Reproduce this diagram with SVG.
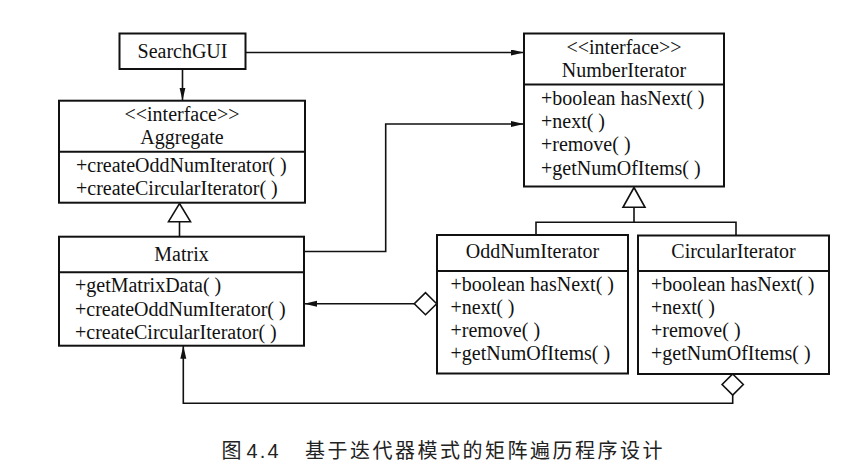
<svg xmlns="http://www.w3.org/2000/svg" width="864" height="475" viewBox="0 0 864 475">
<style>
.box{fill:#fff;stroke:#111;stroke-width:2}
.div{stroke:#111;stroke-width:2}
.t{font-family:"Liberation Serif","Times New Roman",serif;font-size:20px;fill:#111}
.c{text-anchor:middle}
.ln{fill:none;stroke:#111;stroke-width:1.6}
.hol{fill:#fff;stroke:#111;stroke-width:1.6}
.cap{font-family:"Noto Sans CJK SC",sans-serif;font-size:20px;fill:#222}
</style>
<defs>
<marker id="arr" markerUnits="userSpaceOnUse" markerWidth="14" markerHeight="8" refX="13" refY="3" orient="auto">
<path d="M0,0 L13,3 L0,6 Z" fill="#111"/>
</marker>
</defs>
<rect width="864" height="475" fill="#fff"/>

<g id="connectors">
<line class="ln" x1="246" y1="52.5" x2="524" y2="52.5" marker-end="url(#arr)"/>
<line class="ln" x1="182.5" y1="69" x2="182.5" y2="100.5" marker-end="url(#arr)"/>
<polyline class="ln" points="304,251.5 385.7,251.5 385.7,124 524,124" marker-end="url(#arr)"/>
<line class="ln" x1="179.5" y1="236.7" x2="179.5" y2="221.7"/>
<polygon class="hol" points="179.5,203.5 190.5,221.7 168.5,221.7"/>
<polyline class="ln" points="536,235 536,222.3 736,222.3 736,235.5"/>
<line class="ln" x1="634" y1="222.3" x2="634" y2="207.3"/>
<polygon class="hol" points="634,187.5 645,207.3 623,207.3"/>
<line class="ln" x1="414.3" y1="303.7" x2="304" y2="303.7" marker-end="url(#arr)"/>
<polygon class="hol" points="436.7,303.7 425.5,292.7 414.3,303.7 425.5,314.7"/>
<polyline class="ln" points="732.7,395 732.7,403.3 183.3,403.3 183.3,345.7" marker-end="url(#arr)"/>
<polygon class="hol" points="732.7,374 743.3,384.5 732.7,395 722.1,384.5"/>
</g>

<g id="SearchGUI">
<rect class="box" x="119.5" y="33.5" width="126" height="35.5"/>
<text class="t c" x="182.5" y="58">SearchGUI</text>
</g>

<g id="NumberIterator">
<rect class="box" x="524" y="33.5" width="200" height="153"/>
<line class="div" x1="524" y1="84.5" x2="724" y2="84.5"/>
<text class="t c" x="624" y="54">&lt;&lt;interface&gt;&gt;</text>
<text class="t c" x="624" y="77">NumberIterator</text>
<text class="t" x="541" y="105">+boolean hasNext( )</text>
<text class="t" x="541" y="128.3">+next( )</text>
<text class="t" x="541" y="151.3">+remove( )</text>
<text class="t" x="541" y="174.5">+getNumOfItems( )</text>
</g>

<g id="Aggregate">
<rect class="box" x="59" y="100.7" width="246" height="102"/>
<line class="div" x1="59" y1="151.7" x2="305" y2="151.7"/>
<text class="t c" x="182" y="121">&lt;&lt;interface&gt;&gt;</text>
<text class="t c" x="182" y="143.5">Aggregate</text>
<text class="t" x="76" y="171.7">+createOddNumIterator( )</text>
<text class="t" x="76" y="195">+createCircularIterator( )</text>
</g>

<g id="Matrix">
<rect class="box" x="59" y="236.7" width="245" height="109"/>
<line class="div" x1="59" y1="272.3" x2="304" y2="272.3"/>
<text class="t c" x="181.5" y="260.7">Matrix</text>
<text class="t" x="75" y="291.7">+getMatrixData( )</text>
<text class="t" x="75" y="316">+createOddNumIterator( )</text>
<text class="t" x="75" y="339.3">+createCircularIterator( )</text>
</g>

<g id="OddNumIterator">
<rect class="box" x="437" y="235" width="191" height="138.5"/>
<line class="div" x1="437" y1="271" x2="628" y2="271"/>
<text class="t c" x="532.5" y="258">OddNumIterator</text>
<text class="t" x="450.5" y="291">+boolean hasNext( )</text>
<text class="t" x="450.5" y="314">+next( )</text>
<text class="t" x="450.5" y="337">+remove( )</text>
<text class="t" x="450.5" y="360">+getNumOfItems( )</text>
</g>

<g id="CircularIterator">
<rect class="box" x="638" y="235.5" width="191" height="138.5"/>
<line class="div" x1="638" y1="271" x2="829" y2="271"/>
<text class="t c" x="733.5" y="258">CircularIterator</text>
<text class="t" x="651" y="291">+boolean hasNext( )</text>
<text class="t" x="651" y="314">+next( )</text>
<text class="t" x="651" y="337">+remove( )</text>
<text class="t" x="651" y="360">+getNumOfItems( )</text>
</g>

<g id="caption">
<text class="cap" x="221.5" y="458">图</text>
<text class="cap" x="246.5" y="458" textLength="32" lengthAdjust="spacing" style="font-family:'Liberation Sans',sans-serif">4.4</text>
<text class="cap" x="305" y="458" style="letter-spacing:2.5px">基于迭代器模式的矩阵遍历程序设计</text>
</g>
</svg>
